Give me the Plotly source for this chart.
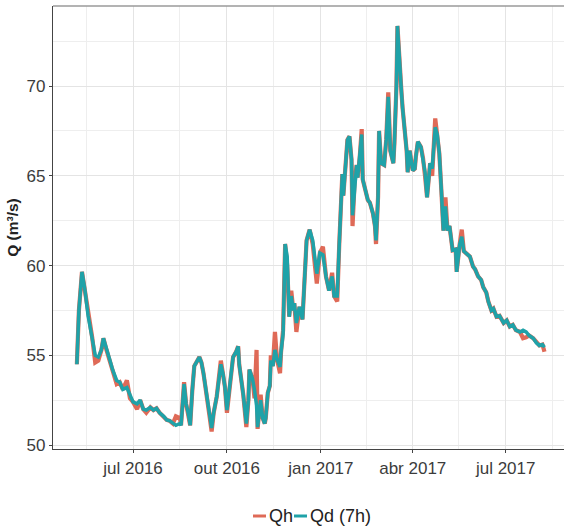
import plotly.graph_objects as go

# ---- data ----
dates = [
"2016-05-07","2016-05-09","2016-05-12","2016-05-15","2016-05-18","2016-05-22","2016-05-25","2016-05-28","2016-05-31","2016-06-02",
"2016-06-05","2016-06-09","2016-06-11","2016-06-15","2016-06-18","2016-06-21","2016-06-25","2016-06-28","2016-07-01","2016-07-05",
"2016-07-08","2016-07-11","2016-07-14","2016-07-18","2016-07-21","2016-07-24","2016-07-27","2016-07-31","2016-08-03","2016-08-06",
"2016-08-09","2016-08-12","2016-08-16","2016-08-17","2016-08-20","2016-08-22","2016-08-24","2016-08-26","2016-08-28","2016-08-30",
"2016-09-04","2016-09-06","2016-09-08","2016-09-10","2016-09-12","2016-09-14","2016-09-16","2016-09-18","2016-09-21","2016-09-23",
"2016-09-25","2016-09-27","2016-09-29","2016-10-01","2016-10-04","2016-10-07","2016-10-10","2016-10-12","2016-10-13","2016-10-15",
"2016-10-17","2016-10-20","2016-10-22","2016-10-23","2016-10-26","2016-10-28","2016-10-30","2016-10-31","2016-11-02","2016-11-03",
"2016-11-05","2016-11-07","2016-11-08","2016-11-10","2016-11-12","2016-11-13","2016-11-15","2016-11-17","2016-11-19","2016-11-22",
"2016-11-23","2016-11-25","2016-11-27","2016-11-29","2016-12-01","2016-12-02","2016-12-03","2016-12-05","2016-12-06","2016-12-08",
"2016-12-11","2016-12-14","2016-12-16","2016-12-18","2016-12-21","2016-12-24","2016-12-28","2016-12-31","2017-01-03","2017-01-06",
"2017-01-09","2017-01-12","2017-01-14","2017-01-17","2017-01-19","2017-01-22","2017-01-23","2017-01-26","2017-01-27","2017-01-29",
"2017-01-31","2017-02-01","2017-02-03","2017-02-05","2017-02-06","2017-02-08","2017-02-10","2017-02-11","2017-02-13","2017-02-16",
"2017-02-18","2017-02-21","2017-02-23","2017-02-24","2017-02-26","2017-02-27","2017-03-01","2017-03-04","2017-03-06","2017-03-08",
"2017-03-10","2017-03-13","2017-03-14","2017-03-16","2017-03-17","2017-03-19","2017-03-21","2017-03-22","2017-03-24","2017-03-26",
"2017-03-27","2017-03-29","2017-04-01","2017-04-03","2017-04-04","2017-04-06","2017-04-09","2017-04-11","2017-04-13","2017-04-15",
"2017-04-18","2017-04-20","2017-04-23","2017-04-25","2017-04-27","2017-04-29","2017-05-01","2017-05-03","2017-05-05","2017-05-07",
"2017-05-09","2017-05-10","2017-05-13","2017-05-14","2017-05-17","2017-05-19","2017-05-21","2017-05-23","2017-05-27","2017-05-30",
"2017-06-01","2017-06-04","2017-06-07","2017-06-09","2017-06-12","2017-06-14","2017-06-17","2017-06-19","2017-06-22","2017-06-25",
"2017-06-29","2017-07-02","2017-07-05","2017-07-08","2017-07-11","2017-07-15","2017-07-18","2017-07-21","2017-07-24","2017-07-28",
"2017-07-31","2017-08-03","2017-08-06","2017-08-08",
]

qd_7h = [
54.5, 57.5, 59.65, 58.6, 57.2, 56.0, 55.0, 54.9, 55.3, 55.95,
55.3, 54.6, 54.2, 53.6, 53.5, 53.1, 53.2, 52.8, 52.4, 52.3,
52.5, 52.0, 51.95, 52.1, 51.95, 52.05, 51.8, 51.6, 51.4, 51.35,
51.2, 51.1, 51.2, 51.1, 53.4, 52.3, 51.8, 51.1, 53.0, 54.4,
54.9, 54.6, 54.0, 53.3, 52.5, 51.6, 50.95, 51.8, 52.7, 53.6,
54.5, 54.0, 53.25, 51.95, 53.45, 54.9, 55.2, 55.5, 54.5, 53.8,
52.8, 51.2, 52.5, 54.2, 53.7, 53.05, 52.2, 51.0, 52.3, 52.5,
51.5, 51.2, 51.5, 52.9, 53.3, 54.7, 54.4, 55.3, 54.8, 54.35,
55.2, 56.2, 61.2, 60.5, 57.15, 58.0, 58.3, 57.5, 57.9, 56.8,
57.7, 57.0, 59.0, 61.4, 62.0, 61.4, 59.55, 60.7, 60.6, 59.4,
58.6, 59.4, 58.3, 58.3, 61.2, 65.1, 63.9, 66.0, 67.0, 67.2,
65.9, 62.8, 64.0, 65.6, 64.9, 66.0, 67.3, 64.8, 64.3, 63.65,
63.5, 62.9, 62.2, 61.4, 63.8, 67.5, 65.7, 65.6, 67.0, 69.4,
66.4, 65.7, 66.8, 70.0, 73.35, 71.0, 69.6, 68.8, 67.7, 66.4,
65.2, 66.4, 65.3, 65.4, 66.05, 66.9, 66.6, 66.0, 65.2, 63.8,
65.7, 65.4, 67.7, 67.3, 66.25, 64.2, 61.95, 63.3, 61.95, 62.2,
61.4, 60.85, 60.9, 59.65, 61.2, 61.6, 60.8, 60.7, 60.5, 59.95,
59.8, 59.4, 59.2, 58.8, 58.5, 58.0, 57.5, 57.6, 57.15, 57.2,
56.8, 56.95, 56.6, 56.7, 56.4, 56.3, 56.4, 56.3, 56.1, 55.95,
55.7, 55.55, 55.6, 55.45,
]

qh = [
54.5, 57.5, 59.65, 58.6, 57.2, 56.0, 54.6, 54.7, 55.3, 55.95,
55.3, 54.6, 54.2, 53.4, 53.5, 53.1, 53.6, 52.6, 52.4, 52.0,
52.5, 52.0, 51.8, 52.1, 51.95, 52.05, 51.8, 51.6, 51.4, 51.35,
51.2, 51.6, 51.5, 51.1, 53.5, 52.3, 51.8, 51.1, 53.0, 54.4,
54.9, 54.6, 54.0, 53.3, 52.5, 51.6, 50.75, 51.8, 52.7, 53.6,
54.7, 54.0, 53.25, 51.8, 53.3, 54.9, 55.2, 55.5, 54.5, 53.8,
52.8, 51.0, 52.5, 54.2, 53.7, 52.6, 55.3, 50.9, 52.3, 52.8,
51.5, 51.2, 51.5, 52.9, 53.3, 55.0, 54.4, 56.3, 54.8, 54.0,
55.2, 56.4, 61.2, 60.0, 57.15, 58.0, 58.6, 57.5, 57.9, 56.3,
57.7, 57.0, 59.0, 61.4, 62.0, 61.2, 59.0, 60.7, 61.05, 59.4,
58.6, 59.6, 58.3, 58.0, 61.2, 65.1, 63.9, 66.0, 67.0, 67.2,
65.9, 62.2, 64.6, 65.6, 64.9, 66.0, 67.6, 64.8, 64.3, 63.65,
63.5, 62.9, 62.2, 61.2, 63.8, 67.5, 65.7, 65.6, 67.0, 69.65,
66.4, 65.7, 66.8, 70.0, 73.35, 71.0, 69.6, 68.8, 67.7, 66.4,
65.2, 66.4, 65.3, 65.4, 66.05, 66.9, 66.6, 66.0, 65.0, 63.8,
65.7, 65.0, 68.2, 67.3, 66.25, 64.2, 61.95, 63.8, 61.95, 62.2,
61.4, 60.85, 60.9, 59.65, 61.2, 62.0, 60.8, 60.7, 60.5, 59.95,
59.8, 59.4, 59.2, 58.8, 58.5, 58.0, 57.5, 57.6, 57.15, 57.2,
56.8, 56.95, 56.6, 56.7, 56.4, 56.3, 55.95, 56.0, 56.1, 55.95,
55.7, 55.55, 55.6, 55.2,
]

x_tick_dates = ["2016-07-01", "2016-10-01", "2017-01-01", "2017-04-01", "2017-07-01"]
x_tick_labels = ["jul 2016", "out 2016", "jan 2017", "abr 2017", "jul 2017"]
x_minor_dates = ["2016-05-16", "2016-08-16", "2016-11-16", "2017-02-15", "2017-05-16", "2017-08-16"]
series_names = ["Qh", "Qd (7h)"]
y_title = "Q (m³/s)"

RED = "#DF6A57"
TEAL = "#1FA2A8"
FONT = "Liberation Sans, Arial, sans-serif"

fig = go.Figure()
fig.add_trace(go.Scatter(x=dates, y=qh, mode="lines", name=series_names[0],
                         line=dict(color=RED, width=4.2), showlegend=False))
fig.add_trace(go.Scatter(x=dates, y=qd_7h, mode="lines", name=series_names[1],
                         line=dict(color=TEAL, width=3.5), showlegend=False))

grid_major = "#E4E4E4"
grid_minor = "#EEEEEE"

LEG_Y = -(516 - 449) / 443

fig.update_layout(
    width=564, height=526,
    margin=dict(l=53, r=0, t=6, b=77),
    paper_bgcolor="white", plot_bgcolor="white",
    font=dict(family=FONT, color="#333333"),
    xaxis=dict(
        type="date",
        range=["2016-04-13 15:00", "2017-08-27 03:00"],
        tickmode="array", tickvals=x_tick_dates, ticktext=x_tick_labels,
        showgrid=True, gridcolor=grid_major, gridwidth=1,
        minor=dict(tickmode="array", tickvals=x_minor_dates, showgrid=True,
                   gridcolor=grid_minor, gridwidth=1, ticklen=0),
        showline=True, linecolor="#444444", linewidth=1.3,
        ticks="outside", ticklen=3, tickcolor="#444444", tickwidth=1,
        tickfont=dict(size=17, color="#3c3c3c", family=FONT),
        zeroline=False,
    ),
    yaxis=dict(
        range=[49.78, 74.46],
        tickmode="array", tickvals=[50, 55, 60, 65, 70],
        showgrid=True, gridcolor=grid_major, gridwidth=1,
        minor=dict(tickmode="array", tickvals=[52.5, 57.5, 62.5, 67.5, 72.5],
                   showgrid=True, gridcolor=grid_minor, gridwidth=1, ticklen=0),
        showline=True, linecolor="#444444", linewidth=1.3,
        ticks="outside", ticklen=3, tickcolor="#444444", tickwidth=1,
        tickfont=dict(size=17, color="#3c3c3c", family=FONT),
        zeroline=False,
        title=dict(text="<b>" + y_title + "</b>", standoff=4,
                   font=dict(size=15.5, color="#222222", family=FONT)),
    ),
    shapes=[
        dict(type="line", xref="paper", yref="paper", x0=0, x1=1, y0=1, y1=1,
             line=dict(color="#9a9a9a", width=1.3)),
        dict(type="line", xref="paper", yref="paper",
             x0=(253 - 53) / 511, x1=(266 - 53) / 511, y0=LEG_Y, y1=LEG_Y,
             line=dict(color=RED, width=3)),
        dict(type="line", xref="paper", yref="paper",
             x0=(294 - 53) / 511, x1=(307 - 53) / 511, y0=LEG_Y, y1=LEG_Y,
             line=dict(color=TEAL, width=3)),
    ],
    annotations=[
        dict(text=series_names[0], xref="paper", yref="paper",
             x=(267 - 53) / 511, y=LEG_Y, xanchor="left", yanchor="middle",
             showarrow=False, font=dict(size=18, color="#222222", family=FONT)),
        dict(text=series_names[1], xref="paper", yref="paper",
             x=(308 - 53) / 511, y=LEG_Y, xanchor="left", yanchor="middle",
             showarrow=False, font=dict(size=18, color="#222222", family=FONT)),
    ],
)

fig.write_html("out.html")
